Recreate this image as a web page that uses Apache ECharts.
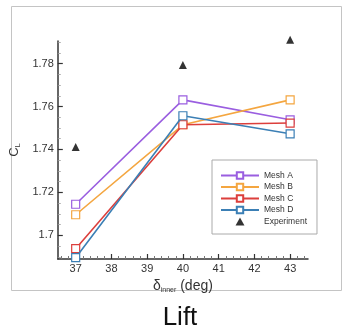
<!DOCTYPE html>
<html>
<head>
<meta charset="utf-8">
<script src="https://cdn.jsdelivr.net/npm/echarts@6/dist/echarts.min.js"></script>
<style>
html,body{margin:0;padding:0;background:#fff;}
#c{width:347px;height:336px;}
</style>
</head>
<body>
<div id="c"></div>
<script>
const deflections = [37, 40, 43];
const meshA = [1.7145, 1.7631, 1.7538];
const meshB = [1.7096, 1.7515, 1.7631];
const meshC = [1.6938, 1.7515, 1.7523];
const meshD = [1.6896, 1.7557, 1.7473];
const experiment = [1.7411, 1.7793, 1.7911];
const xTickLabels = [37, 38, 39, 40, 41, 42, 43];
const yTickLabels = [1.70, 1.72, 1.74, 1.76, 1.78];
const seriesNames = ['Mesh A', 'Mesh B', 'Mesh C', 'Mesh D', 'Experiment'];

const colors = ['#9a5ee0', '#f4a640', '#dc3f3c', '#3b7fb5'];
const xMin = 36.5, xMax = 43.5, yMin = 1.689, yMax = 1.7905;

const xMinor = [];
for (let i = 0; i <= 35; i++) {
  const v = +(36.5 + 0.1 + i * 0.2).toFixed(1);
  if (v < xMax && Math.abs(v - Math.round(v)) > 0.01) xMinor.push(v);
}
const yMinor = [];
for (let i = 0; i <= 20; i++) {
  const v = +(1.69 + i * 0.005).toFixed(3);
  if (v > yMin && v < yMax && Math.abs((v*1000) % 20) > 0.5) yMinor.push(v);
}

const pairs = arr => deflections.map((x, i) => [x, arr[i]]);
const meshes = [meshA, meshB, meshC, meshD];

const axisColor = '#333';
const font = 'Liberation Sans, Arial, sans-serif';

const series = meshes.map((m, i) => ({
  name: seriesNames[i],
  type: 'line',
  data: pairs(m),
  clip: false,
  symbol: 'rect',
  symbolSize: 8,
  showAllSymbol: true,
  lineStyle: {color: colors[i], width: 1.6},
  itemStyle: {color: '#fff', borderColor: colors[i], borderWidth: 1.2},
  emphasis: {disabled: true},
  z: 3 + i
}));
series.push({
  name: seriesNames[4],
  type: 'scatter',
  data: pairs(experiment),
  clip: false,
  symbol: 'triangle',
  symbolSize: 8,
  itemStyle: {color: '#000'},
  z: 10
});

const legendData = seriesNames.map((n, i) => i === 4 ? {name: n, icon: 'path://M5,0 L10,9 L0,9 Z'} : {name: n});

const chart = echarts.init(document.getElementById('c'), null, {renderer: 'canvas'});
chart.setOption({
  animation: false,
  backgroundColor: '#fff',
  grid: {left: 55, right: 39, top: 41, bottom: 77},
  xAxis: [{
    type: 'value', min: xMin, max: xMax,
    axisLine: {lineStyle: {color: axisColor, width: 1.5}},
    axisTick: {inside: true, length: 5, customValues: xTickLabels, lineStyle: {color: axisColor, width: 1.2}},
    axisLabel: {customValues: xTickLabels, margin: 4, color: '#333', fontSize: 11, fontFamily: font},
    splitLine: {show: false},
    name: '{d|δ}{s|inner}{d| (deg)}',
    nameLocation: 'middle',
    nameGap: 18,
    nameTextStyle: {
      rich: {
        d: {fontSize: 14, color: '#333', fontFamily: font},
        s: {fontSize: 7, color: '#333', fontFamily: font, padding: [8, 0, 0, 0]}
      }
    }
  }, {
    type: 'value', min: xMin, max: xMax, position: 'bottom',
    axisLine: {show: false},
    axisTick: {inside: true, length: 3, customValues: xMinor, lineStyle: {color: '#777', width: 1}},
    axisLabel: {show: false},
    splitLine: {show: false}
  }],
  yAxis: [{
    type: 'value', min: yMin, max: yMax,
    axisLine: {show: true, lineStyle: {color: axisColor, width: 1.5}},
    axisTick: {show: true, inside: true, length: 5, customValues: yTickLabels, lineStyle: {color: axisColor, width: 1.2}},
    axisLabel: {customValues: yTickLabels, margin: 4, color: '#333', fontSize: 11, fontFamily: font,
      formatter: v => String(parseFloat(Number(v).toFixed(2)))},
    splitLine: {show: false},
    name: '{c|C}{l|L}',
    nameLocation: 'middle',
    nameGap: 30,
    nameRotate: 90,
    nameTextStyle: {
      rich: {
        c: {fontSize: 13, color: '#333', fontFamily: font},
        l: {fontSize: 7, color: '#333', fontFamily: font, padding: [7, 0, 0, 0]}
      }
    }
  }, {
    type: 'value', min: yMin, max: yMax, position: 'left',
    axisLine: {show: false},
    axisTick: {show: true, inside: true, length: 3, customValues: yMinor, lineStyle: {color: '#999', width: 0.8}},
    axisLabel: {show: false},
    splitLine: {show: false}
  }],
  legend: {
    show: true,
    orient: 'vertical',
    left: 212, top: 160,
    padding: [11, 10, 8, 8],
    itemWidth: 38, itemHeight: 8, itemGap: 2.5,
    symbolKeepAspect: true,
    borderColor: '#aaa', borderWidth: 1,
    backgroundColor: '#fff',
    textStyle: {fontSize: 8.5, color: '#333', fontFamily: font},
    data: legendData
  },
  series: series,
  graphic: [
    {type: 'rect', shape: {x: 11.5, y: 6.5, width: 330, height: 284}, style: {fill: 'none', stroke: '#c4c4c4', lineWidth: 1}, z: -10, silent: true},
    {type: 'text', x: 180, y: 331, style: {text: 'Lift', font: '26px Liberation Sans, Arial, sans-serif', fill: '#111', textAlign: 'center', textVerticalAlign: 'bottom'}}
  ]
});
</script>
</body>
</html>
